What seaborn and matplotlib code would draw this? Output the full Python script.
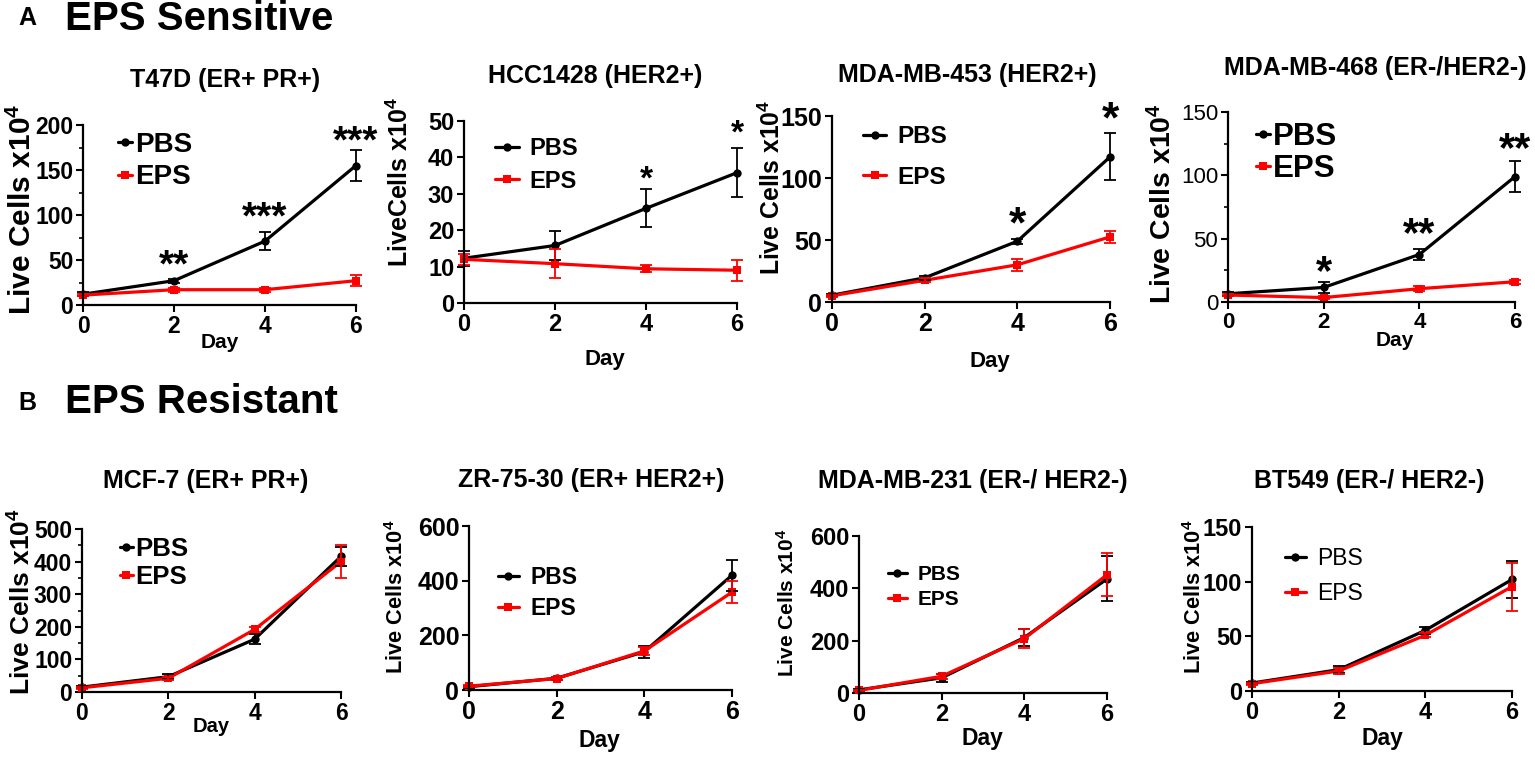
import pandas as pd
import matplotlib.pyplot as plt
import seaborn as sns
from matplotlib.ticker import MultipleLocator

# 細胞増殖曲線（PBS vs EPS）、A: EPS感受性株 / B: EPS耐性株

sns.set_theme(style="ticks")
plt.rcParams["font.family"] = ["Liberation Sans", "DejaVu Sans"]
plt.rcParams["font.weight"] = "bold"
plt.rcParams["mathtext.fontset"] = "custom"
plt.rcParams["mathtext.rm"] = "Liberation Sans:bold"
plt.rcParams["mathtext.default"] = "rm"
for k in ["text.color", "axes.labelcolor", "xtick.color", "ytick.color", "axes.edgecolor"]:
    plt.rcParams[k] = "black"

W, H = 1535, 757

days = [0, 2, 4, 6]
groups = ["PBS", "EPS"]

# --- A: EPS Sensitive ---
t47d_pbs = [12, 27, 71, 155]
t47d_pbs_err = [2, 2, 10, 17]
t47d_eps = [11, 17, 17, 27]
t47d_eps_err = [1, 2, 2, 6]
t47d_stars = [(2, 57, "**"), (4, 110, "***"), (6, 194, "***")]

hcc1428_pbs = [12.3, 15.8, 26, 35.8]
hcc1428_pbs_err = [2, 4.1, 5.2, 6.8]
hcc1428_eps = [12, 10.8, 9.4, 9.0]
hcc1428_eps_err = [1.5, 3.9, 1.0, 2.9]
hcc1428_stars = [(4, 36.7, "*"), (6, 49.5, "*")]

mb453_pbs = [5.5, 19.5, 49, 117]
mb453_pbs_err = [1, 1.5, 2, 19]
mb453_eps = [5, 17.5, 30, 52.5]
mb453_eps_err = [1, 1.5, 5, 5]
mb453_stars = [(4, 72.7, "*"), (6, 157.6, "*")]

mb468_pbs = [6.5, 11.5, 37.5, 99]
mb468_pbs_err = [1.5, 4, 4, 12]
mb468_eps = [5.5, 3.5, 10.5, 16]
mb468_eps_err = [1, 1.5, 2, 1.5]
mb468_stars = [(2, 33, "*"), (4, 63, "**"), (6, 130, "**")]

# --- B: EPS Resistant ---
mcf7_pbs = [15, 47, 162, 416]
mcf7_pbs_err = [3, 8, 16, 30]
mcf7_eps = [13, 42, 192, 400]
mcf7_eps_err = [3, 5, 8, 50]

zr75_pbs = [12, 43, 140, 420]
zr75_pbs_err = [3, 5, 22, 56]
zr75_eps = [14, 42, 143, 358]
zr75_eps_err = [3, 5, 16, 40]

mb231_pbs = [12, 58, 212, 436]
mb231_pbs_err = [3, 15, 33, 86]
mb231_eps = [10, 64, 208, 452]
mb231_eps_err = [3, 10, 35, 82]

bt549_pbs = [7.3, 19.5, 55.5, 102]
bt549_pbs_err = [1, 3, 3, 17]
bt549_eps = [6.7, 18.3, 51, 95.5]
bt549_eps_err = [1, 3, 2, 22]

YL = "Live Cells x10$^4$"

panels = [
    dict(title="T47D (ER+ PR+)", pbs=t47d_pbs, pe=t47d_pbs_err, eps=t47d_eps, ee=t47d_eps_err,
         stars=t47d_stars, star_fs=28, ylim=200, step=50, minor=25, ylabel=YL,
         box=(83, 125, 356, 305), title_xy=(225, 87), yl_xy=(22, 209), yl_fs=21.5,
         xl_xy=(220, 342), xl_fs=15, tick_fs=16.5, ytick_w="bold",
         leg=(118, 161, 20, 0.5, 0.1, 0.24, "bold")),
    dict(title="HCC1428 (HER2+)", pbs=hcc1428_pbs, pe=hcc1428_pbs_err, eps=hcc1428_eps, ee=hcc1428_eps_err,
         stars=hcc1428_stars, star_fs=24, ylim=50, step=10, minor=None, ylabel="LiveCells x10$^4$",
         box=(464, 121, 737, 303), title_xy=(595, 83), yl_xy=(400, 182), yl_fs=18,
         xl_xy=(605, 360), xl_fs=16, tick_fs=17, ytick_w="bold",
         leg=(495, 165, 17, 1.0, 0.45, 0.39, "bold")),
    dict(title="MDA-MB-453 (HER2+)", pbs=mb453_pbs, pe=mb453_pbs_err, eps=mb453_eps, ee=mb453_eps_err,
         stars=mb453_stars, star_fs=32, ylim=150, step=50, minor=None, ylabel=YL,
         box=(832, 116, 1110, 302), title_xy=(967, 82), yl_xy=(772, 187), yl_fs=17.8,
         xl_xy=(990, 362), xl_fs=16, tick_fs=18, ytick_w="bold",
         leg=(863, 157, 17.5, 0.95, 0.45, 0.7, "bold")),
    dict(title="MDA-MB-468 (ER-/HER2-)", pbs=mb468_pbs, pe=mb468_pbs_err, eps=mb468_eps, ee=mb468_eps_err,
         stars=mb468_stars, star_fs=30, ylim=150, step=50, minor=25, ylabel=YL,
         box=(1228, 112, 1515, 302), title_xy=(1375, 75), yl_xy=(1163, 204), yl_fs=20.4,
         xl_xy=(1395, 340), xl_fs=15, tick_fs=16, ytick_w="normal",
         leg=(1256, 153, 22.5, 0.45, 0.1, 0.05, "bold")),
    dict(title="MCF-7 (ER+ PR+)", pbs=mcf7_pbs, pe=mcf7_pbs_err, eps=mcf7_eps, ee=mcf7_eps_err,
         stars=[], star_fs=28, ylim=500, step=100, minor=50, ylabel=YL,
         box=(82, 529, 341, 692), title_xy=(206, 488), yl_xy=(22, 602), yl_fs=19,
         xl_xy=(211, 727), xl_fs=14.5, tick_fs=16.5, ytick_w="bold",
         leg=(120, 563, 18.5, 0.5, 0.1, 0.15, "bold")),
    dict(title="ZR-75-30 (ER+ HER2+)", pbs=zr75_pbs, pe=zr75_pbs_err, eps=zr75_eps, ee=zr75_eps_err,
         stars=[], star_fs=28, ylim=600, step=200, minor=None, ylabel=YL,
         box=(469, 526, 732, 690), title_xy=(591, 487), yl_xy=(397, 597), yl_fs=15.7,
         xl_xy=(599, 740), xl_fs=16.5, tick_fs=18, ytick_w="bold",
         leg=(498, 593, 16.5, 0.9, 0.5, 0.36, "bold")),
    dict(title="MDA-MB-231 (ER-/ HER2-)", pbs=mb231_pbs, pe=mb231_pbs_err, eps=mb231_eps, ee=mb231_eps_err,
         stars=[], star_fs=28, ylim=600, step=200, minor=None, ylabel=YL,
         box=(859, 536, 1107, 693), title_xy=(973, 488), yl_xy=(787, 603), yl_fs=15,
         xl_xy=(982, 738), xl_fs=16.5, tick_fs=17, ytick_w="bold",
         leg=(888, 587, 15, 0.9, 0.5, 0.3, "bold")),
    dict(title="BT549 (ER-/ HER2-)", pbs=bt549_pbs, pe=bt549_pbs_err, eps=bt549_eps, ee=bt549_eps_err,
         stars=[], star_fs=28, ylim=150, step=50, minor=None, ylabel=YL,
         box=(1252, 527, 1512, 691), title_xy=(1369, 488), yl_xy=(1195, 597), yl_fs=15.7,
         xl_xy=(1382, 738), xl_fs=16.5, tick_fs=17, ytick_w="bold",
         leg=(1285, 576, 16.5, 0.9, 0.5, 0.49, "normal")),
]

palette = {"PBS": "black", "EPS": "red"}

fig = plt.figure(figsize=(W / 100, H / 100), dpi=100)

# セクション見出し
fig.text(18 / W, 1 - 25 / H, "A", fontsize=18, fontweight="bold", va="baseline")
fig.text(65 / W, 1 - 30 / H, "EPS Sensitive", fontsize=29, fontweight="bold", va="baseline")
fig.text(18 / W, 1 - 410 / H, "B", fontsize=18, fontweight="bold", va="baseline")
fig.text(65 / W, 1 - 413 / H, "EPS Resistant", fontsize=29, fontweight="bold", va="baseline")

for p in panels:
    l, t, r, b = p["box"]
    ax = fig.add_axes([l / W, 1 - b / H, (r - l) / W, (b - t) / H])

    df = pd.DataFrame({
        "Day": days * 2,
        "Cells": p["pbs"] + p["eps"],
        "Group": ["PBS"] * 4 + ["EPS"] * 4,
    })
    sns.lineplot(data=df, x="Day", y="Cells", hue="Group", style="Group",
                 hue_order=groups, style_order=groups, palette=palette,
                 markers={"PBS": "o", "EPS": "s"}, dashes=False,
                 linewidth=2.3, markersize=6, markeredgewidth=0, ax=ax, clip_on=False)

    for vals, errs, g in [(p["pbs"], p["pe"], "PBS"), (p["eps"], p["ee"], "EPS")]:
        ax.errorbar(days, vals, yerr=errs, fmt="none", ecolor=palette[g],
                    elinewidth=1.3, capsize=4, capthick=1.3, clip_on=False)

    ax.set_xlim(0, 6)
    ax.set_ylim(0, p["ylim"])
    ax.set_xticks(days)
    ax.yaxis.set_major_locator(MultipleLocator(p["step"]))
    if p["minor"]:
        ax.yaxis.set_minor_locator(MultipleLocator(p["minor"]))
        ax.tick_params(axis="y", which="minor", length=3, width=1.2)
    sns.despine(ax=ax)
    for s in ["left", "bottom"]:
        ax.spines[s].set_linewidth(1.6)
    ax.tick_params(axis="both", which="major", length=5, width=1.5, pad=2,
                   labelsize=p["tick_fs"], colors="black")
    for lab in ax.get_xticklabels():
        lab.set_fontweight("bold")
    for lab in ax.get_yticklabels():
        lab.set_fontweight(p["ytick_w"])

    # 軸ラベル（画素位置から軸座標に変換）
    def to_ax(px, py):
        return (px - l) / (r - l), (b - py) / (b - t)

    ax.set_ylabel(p["ylabel"], fontsize=p["yl_fs"], fontweight="bold", va="center")
    ax.yaxis.set_label_coords(*to_ax(*p["yl_xy"]))
    ax.set_xlabel("Day", fontsize=p["xl_fs"], fontweight="bold", va="center")
    ax.xaxis.set_label_coords(*to_ax(*p["xl_xy"]))

    tx, ty = p["title_xy"]
    fig.text(tx / W, 1 - ty / H, p["title"], fontsize=18, fontweight="bold",
             ha="center", va="baseline")

    for d, y, s in p["stars"]:
        ax.annotate(s, (d, y), xytext=(0, -0.58 * p["star_fs"]), textcoords="offset points",
                    ha="center", va="baseline", fontsize=p["star_fs"], fontweight="bold",
                    annotation_clip=False)

    lx, ly, lfs, hl, htp, ls, lw = p["leg"]
    handles, labels = ax.get_legend_handles_labels()
    ax.legend(handles, labels, loc="center left", bbox_to_anchor=(lx / W, 1 - ly / H),
              bbox_transform=fig.transFigure, frameon=False, borderpad=0, borderaxespad=0,
              handlelength=hl, handletextpad=htp, labelspacing=ls,
              prop={"size": lfs, "weight": lw})

fig.savefig("out.png", dpi=100)
